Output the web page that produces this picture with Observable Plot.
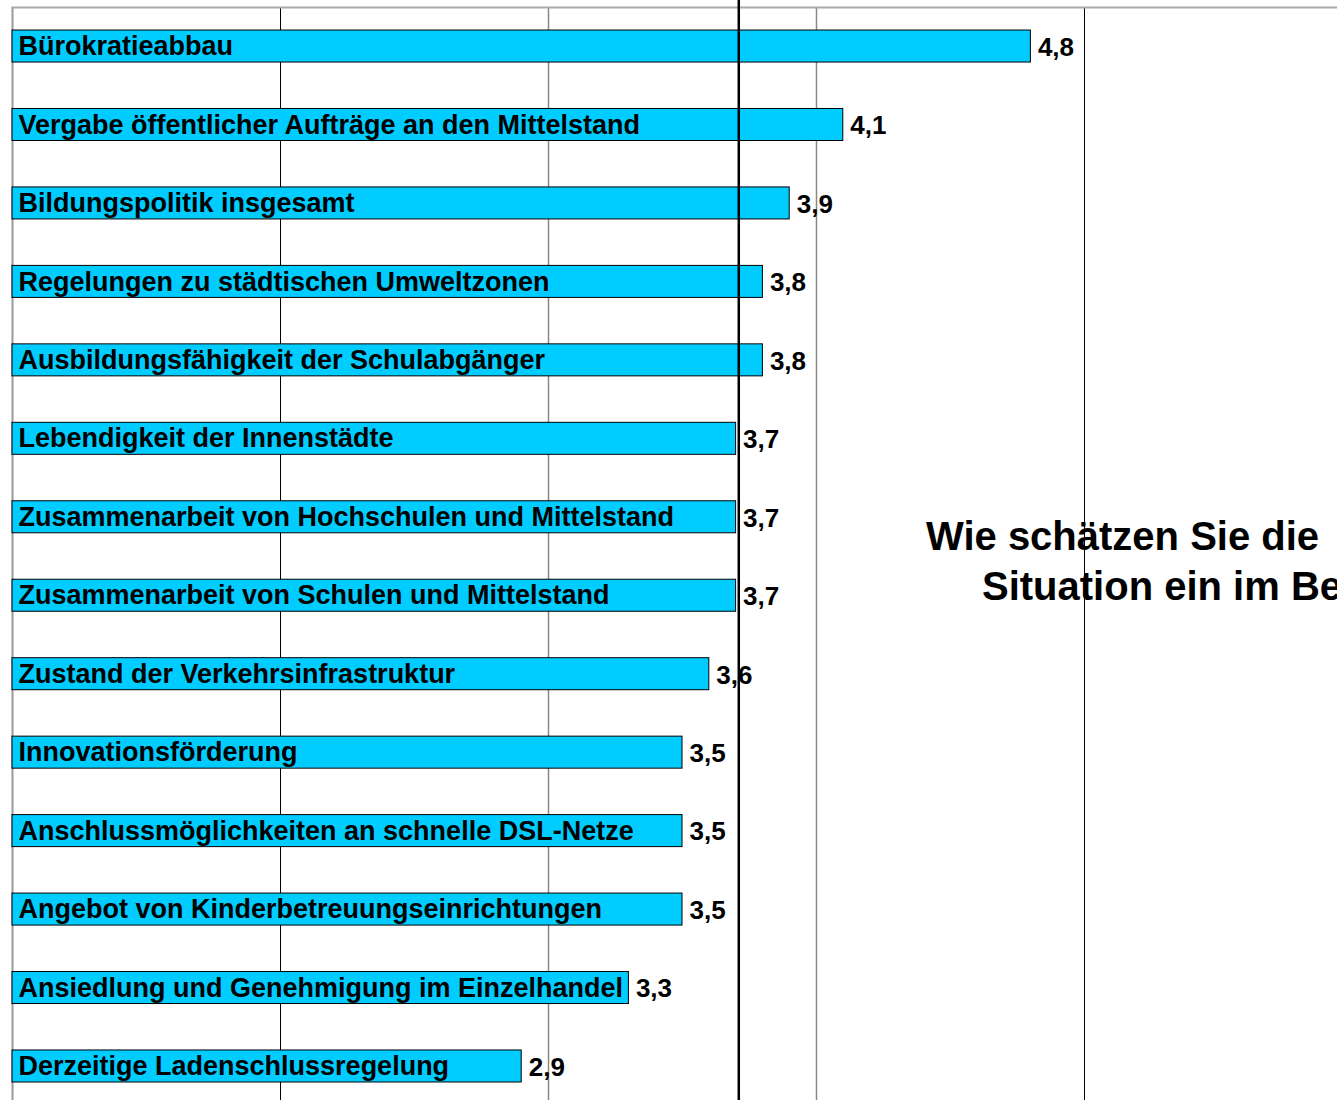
<!DOCTYPE html>
<html>
<head>
<meta charset="utf-8">
<script src="https://cdn.jsdelivr.net/npm/d3@7"></script>
<script src="https://cdn.jsdelivr.net/npm/@observablehq/plot@0.6"></script>
<style>
  html, body { margin: 0; padding: 0; background: #fff; overflow: hidden; }
  #wrap { position: relative; width: 1337px; height: 1100px; overflow: hidden; background: #fff; }
  .title { position: absolute; font-family: Arial, "Liberation Sans", sans-serif; font-weight: bold;
           font-size: 40px; line-height: 50px; white-space: nowrap; color: #000; }
</style>
</head>
<body>
<div id="wrap">
  <div id="chart"></div>
  <div class="title" id="t1" style="left:926px; top:511px;"></div>
  <div class="title" id="t2" style="left:982px; top:561px;"></div>
</div>
<script>
const categories = [
  "Bürokratieabbau",
  "Vergabe öffentlicher Aufträge an den Mittelstand",
  "Bildungspolitik insgesamt",
  "Regelungen zu städtischen Umweltzonen",
  "Ausbildungsfähigkeit der Schulabgänger",
  "Lebendigkeit der Innenstädte",
  "Zusammenarbeit von Hochschulen und Mittelstand",
  "Zusammenarbeit von Schulen und Mittelstand",
  "Zustand der Verkehrsinfrastruktur",
  "Innovationsförderung",
  "Anschlussmöglichkeiten an schnelle DSL-Netze",
  "Angebot von Kinderbetreuungseinrichtungen",
  "Ansiedlung und Genehmigung im Einzelhandel",
  "Derzeitige Ladenschlussregelung"
];
const values = [4.8, 4.1, 3.9, 3.8, 3.8, 3.7, 3.7, 3.7, 3.6, 3.5, 3.5, 3.5, 3.3, 2.9];
const gridTicks = [2, 3, 4, 5];
const referenceValue = 3.71;
const titleLines = ["Wie schätzen Sie die", "Situation ein im Be"];
const scaleStart = 1;

const data = categories.map((c, i) => ({label: c, value: values[i]}));
const fmt = v => v.toFixed(1).replace(".", ",");
const font = 'Arial, "Liberation Sans", sans-serif';

const chart = Plot.plot({
  width: 1337,
  height: 1100,
  marginLeft: 12,
  marginRight: 0,
  marginTop: 7,
  marginBottom: 0,
  style: {fontFamily: font, background: "transparent", overflow: "visible"},
  x: {domain: [scaleStart, scaleStart + 1325 / 268], axis: null},
  y: {domain: categories, axis: null, round: false, paddingInner: 0.592, paddingOuter: 0.2615, align: 0.561},
  marks: [
    Plot.ruleX(gridTicks, {stroke: d => (d === 2 || d === 5) ? "#000" : "#888", strokeWidth: d => (d === 2 || d === 5) ? 1 : 1.5}),
    Plot.ruleX([scaleStart], {stroke: "#999", strokeWidth: 2}),
    Plot.frame({anchor: "top", stroke: "#aaa", strokeWidth: 2}),
    Plot.text(data, {x: "value", y: "label", text: d => fmt(d.value), textAnchor: "start", dx: 7, dy: 1,
      fontSize: 26, fontWeight: "bold", fill: "#000"}),
    Plot.barX(data, {x1: scaleStart, x2: "value", y: "label", fill: "#00CCFF", stroke: "#000", strokeWidth: 1}),
    Plot.text(data, {x: scaleStart, y: "label", text: "label", textAnchor: "start", dx: 6,
      fontSize: 27, fontWeight: "bold", fill: "#000"}),
    Plot.ruleX([referenceValue], {stroke: "#000", strokeWidth: 2.5, insetTop: -7})
  ]
});
document.getElementById("chart").appendChild(chart);
document.getElementById("t1").textContent = titleLines[0];
document.getElementById("t2").textContent = titleLines[1];
</script>
</body>
</html>
